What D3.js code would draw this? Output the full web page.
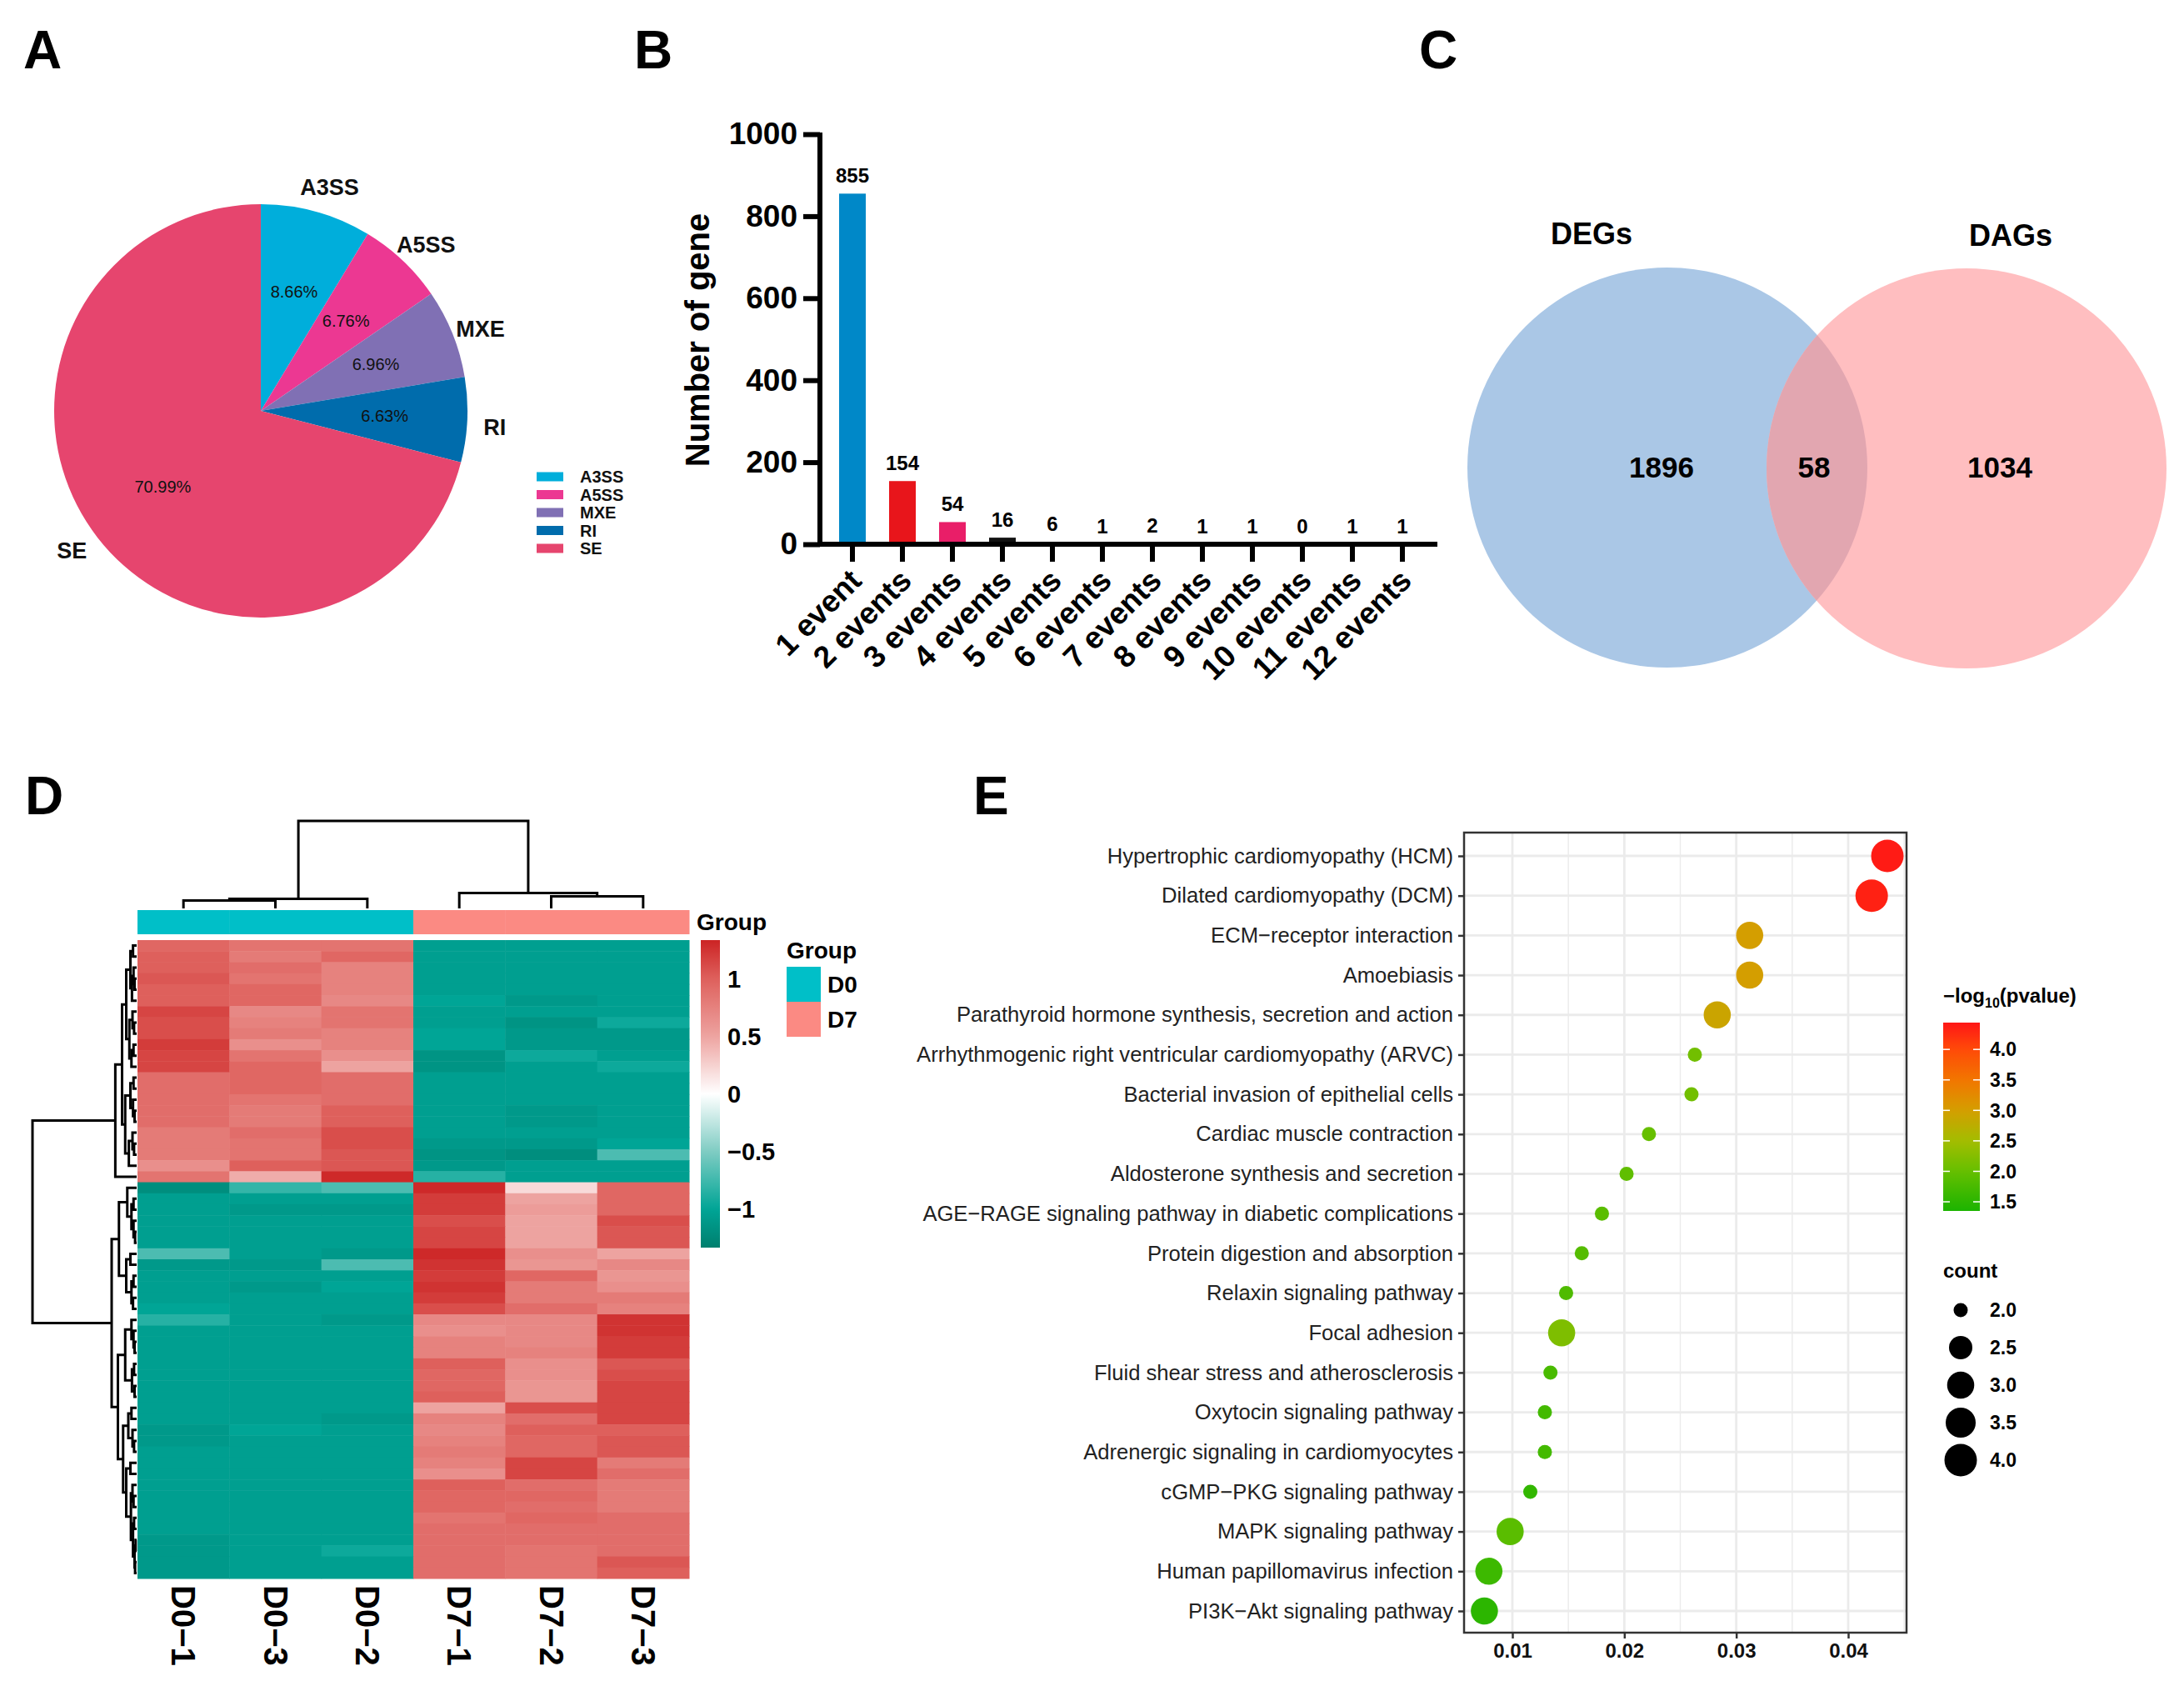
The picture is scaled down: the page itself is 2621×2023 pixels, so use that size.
<!DOCTYPE html>
<html><head><meta charset="utf-8">
<script src="https://cdn.jsdelivr.net/npm/d3@7"></script>
<style>body{margin:0;background:#fff} svg{display:block}</style>
</head><body>
<svg id="fig" width="2621" height="2023"></svg>
<script>
// ---------------- DATA ----------------
// Panel A
const pieTypes = ["A3SS", "A5SS", "MXE", "RI", "SE"];
const piePercents = [8.66, 6.76, 6.96, 6.63, 70.99];
const pieColors = ["#00AEDB", "#EC3892", "#8070B4", "#006CAC", "#E6456E"];

// Panel B
const eventCats = ["1 event", "2 events", "3 events", "4 events", "5 events", "6 events",
  "7 events", "8 events", "9 events", "10 events", "11 events", "12 events"];
const eventCounts = [855, 154, 54, 16, 6, 1, 2, 1, 1, 0, 1, 1];
const eventYTicks = [0, 200, 400, 600, 800, 1000];
const eventColors = ["#0088C8", "#E8151B", "#E91E68", "#111111", "#111111", "#111111",
  "#111111", "#111111", "#111111", "#111111", "#111111", "#111111"];

// Panel C
const vennSets = ["DEGs", "DAGs"];
const vennCounts = [1896, 58, 1034]; // only DEGs, both, only DAGs

// Panel D
const heatSamples = ["D0−1", "D0−3", "D0−2", "D7−1", "D7−2", "D7−3"];
const heatGroups = ["D0", "D0", "D0", "D7", "D7", "D7"];
const groupLevels = ["D0", "D7"];
const heatValues = [
  [0.95, 0.85, 0.85, -1.05, -1.05, -1.05],
  [1.0, 0.8, 0.95, -1.05, -1.05, -1.05],
  [1.0, 0.9, 0.75, -1.05, -1.05, -1.05],
  [1.05, 0.85, 0.75, -1.05, -1.05, -1.05],
  [1.0, 0.95, 0.75, -1.05, -1.05, -1.05],
  [1.0, 0.95, 0.7, -1.0, -1.1, -1.05],
  [1.15, 0.7, 0.85, -1.05, -1.05, -1.05],
  [1.1, 0.75, 0.85, -1.05, -1.15, -0.95],
  [1.1, 0.8, 0.75, -1.0, -1.1, -1.1],
  [1.2, 0.65, 0.75, -1.0, -1.1, -1.1],
  [1.15, 0.85, 0.65, -1.15, -0.95, -1.05],
  [1.15, 0.95, 0.5, -1.15, -1.05, -0.95],
  [0.9, 0.95, 0.9, -1.05, -1.05, -1.05],
  [0.9, 0.95, 0.9, -1.05, -1.05, -1.05],
  [0.9, 0.85, 0.9, -1.05, -1.05, -1.05],
  [0.9, 0.8, 1.0, -1.05, -1.1, -1.05],
  [0.9, 0.8, 1.0, -1.05, -1.1, -1.05],
  [0.8, 0.9, 1.1, -1.05, -1.05, -1.05],
  [0.8, 0.85, 1.1, -1.1, -1.1, -1.0],
  [0.8, 0.85, 1.05, -1.15, -1.2, -0.7],
  [0.65, 1.0, 1.05, -1.1, -1.05, -1.05],
  [0.85, 0.45, 1.3, -0.85, -1.05, -1.05],
  [-1.2, -0.8, -0.7, 1.3, 0.2, 0.95],
  [-1.05, -1.05, -1.05, 1.2, 0.5, 0.95],
  [-1.05, -1.1, -1.1, 1.2, 0.55, 0.95],
  [-1.05, -1.05, -1.05, 1.1, 0.5, 1.1],
  [-1.05, -1.05, -1.05, 1.15, 0.5, 1.05],
  [-1.05, -1.05, -1.05, 1.15, 0.5, 1.05],
  [-0.7, -1.05, -1.1, 1.3, 0.65, 0.5],
  [-1.1, -1.1, -0.7, 1.25, 0.6, 0.7],
  [-1.05, -1.05, -1.05, 1.2, 0.95, 0.6],
  [-1.05, -1.1, -1.0, 1.25, 0.8, 0.65],
  [-1.05, -1.05, -1.05, 1.2, 0.8, 0.8],
  [-1.0, -1.05, -1.05, 1.1, 0.9, 0.75],
  [-0.85, -1.05, -1.1, 0.7, 0.7, 1.25],
  [-1.05, -1.05, -1.05, 0.65, 0.7, 1.25],
  [-1.05, -1.05, -1.05, 0.75, 0.7, 1.2],
  [-1.05, -1.05, -1.05, 0.75, 0.75, 1.2],
  [-1.05, -1.05, -1.05, 1.0, 0.65, 1.05],
  [-1.05, -1.05, -1.05, 0.95, 0.65, 1.1],
  [-1.05, -1.05, -1.05, 0.95, 0.6, 1.15],
  [-1.05, -1.05, -1.05, 1.0, 0.6, 1.15],
  [-1.05, -1.05, -1.05, 0.5, 1.1, 1.15],
  [-1.05, -1.05, -1.1, 0.75, 0.9, 1.15],
  [-1.1, -1.0, -1.05, 0.7, 1.0, 1.0],
  [-1.1, -1.05, -1.05, 0.75, 0.95, 1.05],
  [-1.05, -1.05, -1.05, 0.8, 0.95, 1.05],
  [-1.05, -1.05, -1.05, 0.75, 1.15, 0.8],
  [-1.05, -1.05, -1.05, 0.65, 1.15, 0.9],
  [-1.05, -1.05, -1.05, 1.0, 0.9, 0.8],
  [-1.05, -1.05, -1.05, 0.95, 0.95, 0.8],
  [-1.05, -1.05, -1.05, 0.95, 0.9, 0.8],
  [-1.05, -1.05, -1.05, 0.85, 0.95, 0.9],
  [-1.05, -1.05, -1.05, 0.9, 0.9, 0.9],
  [-1.1, -1.05, -1.05, 0.9, 0.9, 0.9],
  [-1.1, -1.05, -0.95, 0.9, 0.85, 0.9],
  [-1.1, -1.05, -1.05, 0.9, 0.85, 1.05],
  [-1.1, -1.05, -1.05, 0.9, 0.85, 1.0]
];
const heatLegendTicks = [1, 0.5, 0, -0.5, -1];
// dendrograms: {h: merge height, c: [children]}, leaves = row/column index
const colTree = {h: 10.5, c: [{h: 1.15, c: [{h: 0.95, c: [0, 1]}, 2]}, {h: 1.85, c: [3, {h: 1.45, c: [4, 5]}]}]};
const rowTree = {h: 10, c: [
  {h: 2.05, c: [
    {h: 1.4, c: [
      {h: 1.0, c: [
        {h: 0.6, c: [{h: 0.35, c: [0, 1]}, {h: 0.45, c: [{h: 0.3, c: [2, {h: 0.2, c: [3, 4]}]}, 5]}]},
        {h: 0.7, c: [{h: 0.4, c: [6, {h: 0.25, c: [7, 8]}]}, {h: 0.5, c: [{h: 0.3, c: [9, 10]}, 11]}]}]},
      {h: 1.1, c: [
        {h: 0.6, c: [{h: 0.3, c: [12, 13]}, {h: 0.35, c: [14, {h: 0.2, c: [15, 16]}]}]},
        {h: 0.75, c: [{h: 0.4, c: [17, {h: 0.25, c: [18, 19]}]}, 20]}]}]},
    21]},
  {h: 2.4, c: [
    {h: 1.7, c: [
      {h: 0.9, c: [22, {h: 0.5, c: [{h: 0.3, c: [23, 24]}, {h: 0.3, c: [25, {h: 0.15, c: [26, 27]}]}]}]},
      {h: 1.0, c: [{h: 0.6, c: [28, 29]}, {h: 0.5, c: [{h: 0.3, c: [30, 31]}, {h: 0.35, c: [32, 33]}]}]}]},
    {h: 1.8, c: [
      {h: 1.1, c: [{h: 0.5, c: [34, {h: 0.3, c: [35, {h: 0.2, c: [36, 37]}]}]}, {h: 0.45, c: [{h: 0.25, c: [38, 39]}, {h: 0.2, c: [40, 41]}]}]},
      {h: 1.3, c: [
        {h: 0.8, c: [{h: 0.5, c: [42, 43]}, {h: 0.4, c: [44, {h: 0.25, c: [45, 46]}]}]},
        {h: 1.0, c: [{h: 0.6, c: [47, 48]},
          {h: 0.55, c: [{h: 0.4, c: [49, {h: 0.3, c: [50, 51]}]},
            {h: 0.35, c: [{h: 0.25, c: [52, 53]}, {h: 0.2, c: [{h: 0.1, c: [54, 55]}, {h: 0.15, c: [56, 57]}]}]}]}]}]}]}]}
]};

// Panel E
const pathways = ["Hypertrophic cardiomyopathy (HCM)", "Dilated cardiomyopathy (DCM)",
  "ECM−receptor interaction", "Amoebiasis", "Parathyroid hormone synthesis, secretion and action",
  "Arrhythmogenic right ventricular cardiomyopathy (ARVC)", "Bacterial invasion of epithelial cells",
  "Cardiac muscle contraction", "Aldosterone synthesis and secretion",
  "AGE−RAGE signaling pathway in diabetic complications", "Protein digestion and absorption",
  "Relaxin signaling pathway", "Focal adhesion", "Fluid shear stress and atherosclerosis",
  "Oxytocin signaling pathway", "Adrenergic signaling in cardiomyocytes", "cGMP−PKG signaling pathway",
  "MAPK signaling pathway", "Human papillomavirus infection", "PI3K−Akt signaling pathway"];
const geneRatio = [0.0435, 0.0421, 0.0312, 0.0312, 0.0283, 0.0263, 0.0260, 0.0222, 0.0202, 0.0180,
  0.0162, 0.0148, 0.0144, 0.0134, 0.0129, 0.0129, 0.0116, 0.0098, 0.0079, 0.0075];
const negLogP = [4.4, 4.35, 3.0, 3.0, 2.9, 2.1, 2.1, 2.0, 1.95, 1.9, 1.85, 1.8, 2.2, 1.75, 1.7, 1.7,
  1.55, 1.9, 1.65, 1.5];
const geneCount = [4, 4, 3, 3, 3, 2, 2, 2, 2, 2, 2, 2, 3, 2, 2, 2, 2, 3, 3, 3];
const ratioTicks = [0.01, 0.02, 0.03, 0.04];
const ratioMinor = [0.015, 0.025, 0.035, 0.045];
const pLegendTicks = [4.0, 3.5, 3.0, 2.5, 2.0, 1.5];
const countLegend = [2.0, 2.5, 3.0, 3.5, 4.0];
// colour ramp of -log10(pvalue)
const pColorStops = [1.35, 1.5, 2.0, 2.5, 3.0, 3.5, 4.0, 4.44];
const pColorRamp = ["#1CB400", "#2CB600", "#66BF00", "#A3BD00", "#D49E00", "#F27600", "#FF4A08", "#FF1616"];

// ---------------- DRAW ----------------
const FONT = "'Liberation Sans', Arial, Helvetica, sans-serif";
const svg = d3.select("#fig").style("font-family", FONT);
svg.append("rect").attr("width", 2621).attr("height", 2023).attr("fill", "#fff");
const defs = svg.append("defs");

function panelLabel(t, x, y) {
  svg.append("text").attr("x", x).attr("y", y).text(t)
    .attr("font-size", 64).attr("font-weight", "bold").attr("fill", "#000");
}
panelLabel("A", 28, 82); panelLabel("B", 761, 82); panelLabel("C", 1703, 82);
panelLabel("D", 30, 977); panelLabel("E", 1168, 977);

// ---- Panel A: pie ----
(function () {
  const R = 248;
  const g = svg.append("g").attr("transform", "translate(313,493)");
  const arcs = d3.pie().sort(null).value(d => d)(piePercents);
  const arc = d3.arc().innerRadius(0).outerRadius(R);
  const inner = d3.arc().innerRadius(R * 0.6).outerRadius(R * 0.6);
  g.selectAll("path.s").data(arcs).join("path").attr("d", arc)
    .attr("fill", (d, i) => pieColors[i]);
  g.selectAll("text.p").data(arcs).join("text")
    .attr("transform", d => `translate(${inner.centroid(d)})`)
    .attr("text-anchor", "middle").attr("dy", "0.35em")
    .attr("font-size", 20).attr("fill", "#111")
    .text((d, i) => piePercents[i].toFixed(2) + "%");
  g.selectAll("text.o").data(arcs).join("text")
    .attr("transform", d => {
      const a = (d.startAngle + d.endAngle) / 2 + 0.025;
      const r = R * 1.135;
      return `translate(${r * Math.sin(a)},${-r * Math.cos(a)})`;
    })
    .attr("text-anchor", "middle").attr("dy", "0.36em")
    .attr("font-size", 27).attr("font-weight", "bold").attr("fill", "#111")
    .text((d, i) => pieTypes[i]);
  // legend
  const ly = d3.scalePoint().domain(pieTypes).range([572, 658]);
  const lg = svg.append("g");
  lg.selectAll("rect").data(pieTypes).join("rect")
    .attr("x", 644).attr("y", d => ly(d) - 5.5).attr("width", 32).attr("height", 11)
    .attr("fill", (d, i) => pieColors[i]);
  lg.selectAll("text").data(pieTypes).join("text")
    .attr("x", 696).attr("y", d => ly(d)).attr("dy", "0.36em")
    .attr("font-size", 20).attr("font-weight", "bold").attr("fill", "#111").text(d => d);
})();

// ---- Panel B: bars ----
(function () {
  const y = d3.scaleLinear().domain([0, 1000]).range([653, 161]);
  const x = d3.scalePoint().domain(eventCats).range([1023, 1683]);
  const bw = 32;
  const g = svg.append("g");
  g.selectAll("rect").data(eventCats).join("rect")
    .attr("x", d => x(d) - bw / 2).attr("width", bw)
    .attr("y", (d, i) => y(eventCounts[i])).attr("height", (d, i) => y(0) - y(eventCounts[i]))
    .attr("fill", (d, i) => eventColors[i]);
  g.selectAll("text.v").data(eventCats).join("text")
    .attr("x", d => x(d)).attr("y", (d, i) => y(eventCounts[i]) - 13)
    .attr("text-anchor", "middle").attr("font-size", 24).attr("font-weight", "bold")
    .text((d, i) => eventCounts[i]);
  const ya = g.append("g").attr("transform", "translate(984,0)")
    .call(d3.axisLeft(y).tickValues(eventYTicks).tickFormat(d3.format("d"))
      .tickSize(20).tickSizeOuter(0).tickPadding(7));
  ya.select(".domain").attr("stroke", "#000").attr("stroke-width", 6)
    .attr("d", `M0,${y(1000) - 2}V${y(0) + 3}`);
  ya.selectAll(".tick line").attr("stroke", "#000").attr("stroke-width", 6);
  ya.selectAll(".tick text").attr("font-size", 37).attr("font-weight", "bold")
    .attr("font-family", FONT).attr("fill", "#000");
  // x axis
  g.append("line").attr("x1", 981).attr("x2", 1725).attr("y1", y(0)).attr("y2", y(0))
    .attr("stroke", "#000").attr("stroke-width", 6);
  g.selectAll("line.t").data(eventCats).join("line")
    .attr("x1", d => x(d)).attr("x2", d => x(d)).attr("y1", y(0)).attr("y2", y(0) + 21)
    .attr("stroke", "#000").attr("stroke-width", 6);
  g.selectAll("text.x").data(eventCats).join("text")
    .attr("transform", d => `translate(${x(d) + 13},${y(0) + 46}) rotate(-45)`)
    .attr("text-anchor", "end").attr("font-size", 37).attr("font-weight", "bold").text(d => d);
  g.append("text").attr("transform", "translate(851,408) rotate(-90)")
    .attr("text-anchor", "middle").attr("font-size", 40).attr("font-weight", "bold").text("Number of gene");
})();

// ---- Panel C: Venn ----
(function () {
  const g = svg.append("g");
  const c1 = {x: 2001, y: 561, r: 240}, c2 = {x: 2360, y: 562, r: 240};
  defs.append("clipPath").attr("id", "vclip").append("circle")
    .attr("cx", c1.x).attr("cy", c1.y).attr("r", c1.r);
  g.append("circle").attr("cx", c1.x).attr("cy", c1.y).attr("r", c1.r).attr("fill", "#AAC7E6");
  g.append("circle").attr("cx", c2.x).attr("cy", c2.y).attr("r", c2.r).attr("fill", "#FFBEC0");
  g.append("circle").attr("cx", c2.x).attr("cy", c2.y).attr("r", c2.r).attr("fill", "#E2A6B0")
    .attr("clip-path", "url(#vclip)");
  g.append("text").attr("x", 1910).attr("y", 293).attr("text-anchor", "middle")
    .attr("font-size", 36).attr("font-weight", "bold").text(vennSets[0]);
  g.append("text").attr("x", 2413).attr("y", 295).attr("text-anchor", "middle")
    .attr("font-size", 36).attr("font-weight", "bold").text(vennSets[1]);
  const nx = [1994, 2177, 2400];
  vennCounts.forEach((v, i) => {
    g.append("text").attr("x", nx[i]).attr("y", 573).attr("text-anchor", "middle")
      .attr("font-size", 35).attr("font-weight", "bold").text(v);
  });
})();

// ---- Panel D: heatmap ----
(function () {
  const g = svg.append("g");
  const x = d3.scaleBand().domain(d3.range(heatSamples.length)).range([165, 827]);
  const y = d3.scaleBand().domain(d3.range(heatValues.length)).range([1128, 1894]);
  const color = d3.scaleLinear()
    .domain([-1.33, -1.0, -0.5, 0, 0.5, 1.0, 1.33])
    .range(["#007F6E", "#00A596", "#7FCCC3", "#FFFFFF", "#EDA3A0", "#DE605C", "#CC2424"])
    .clamp(true);
  const groupColor = d3.scaleOrdinal().domain(groupLevels).range(["#00BFC8", "#FB8A83"]);
  heatValues.forEach((row, r) => {
    g.selectAll(null).data(row).join("rect")
      .attr("x", (d, c) => x(c)).attr("y", y(r))
      .attr("width", x.bandwidth() + 0.5).attr("height", y.bandwidth() + 0.5)
      .attr("fill", d => color(d));
  });
  // annotation bar
  g.selectAll("rect.a").data(heatGroups).join("rect")
    .attr("x", (d, c) => x(c)).attr("y", 1092).attr("width", x.bandwidth() + 0.5).attr("height", 29)
    .attr("fill", d => groupColor(d));
  g.append("text").attr("x", 836).attr("y", 1116).attr("font-size", 28).attr("font-weight", "bold").text("Group");
  // column labels
  g.selectAll("text.c").data(heatSamples).join("text")
    .attr("transform", (d, c) => `translate(${x(c) + x.bandwidth() / 2},1902) rotate(90)`)
    .attr("dominant-baseline", "central")
    .attr("font-size", 40).attr("font-weight", "bold").text(d => d);
  // column dendrogram
  const cy = d3.scaleLinear().domain([0, 10.5]).range([1090, 985]);
  function layoutCol(n) {
    if (typeof n === "number") return {x: x(n) + x.bandwidth() / 2, y: cy(0)};
    const a = layoutCol(n.c[0]), b = layoutCol(n.c[1]);
    const p = {x: (a.x + b.x) / 2, y: cy(n.h)};
    g.append("path").attr("d", `M${a.x},${a.y}V${p.y}H${b.x}V${b.y}`)
      .attr("fill", "none").attr("stroke", "#000").attr("stroke-width", 3);
    return p;
  }
  layoutCol(colTree);
  // row dendrogram
  const rx = d3.scaleLinear().domain([0, 10]).range([164, 39]);
  function layoutRow(n) {
    if (typeof n === "number") return {x: rx(0), y: y(n) + y.bandwidth() / 2};
    const a = layoutRow(n.c[0]), b = layoutRow(n.c[1]);
    const p = {x: rx(n.h), y: (a.y + b.y) / 2};
    g.append("path").attr("d", `M${a.x},${a.y}H${p.x}V${b.y}H${b.x}`)
      .attr("fill", "none").attr("stroke", "#000").attr("stroke-width", 3);
    return p;
  }
  layoutRow(rowTree);
  // color bar
  const ly = d3.scaleLinear().domain([1.333, -1.333]).range([1128, 1497]);
  const grad = defs.append("linearGradient").attr("id", "hgrad")
    .attr("x1", 0).attr("x2", 0).attr("y1", 0).attr("y2", 1);
  d3.range(0, 1.0001, 0.02).forEach(t => {
    grad.append("stop").attr("offset", t).attr("stop-color", color(1.333 - t * 2.666));
  });
  g.append("rect").attr("x", 841).attr("y", 1128).attr("width", 23).attr("height", 369).attr("fill", "url(#hgrad)");
  g.selectAll("text.l").data(heatLegendTicks).join("text")
    .attr("x", 873).attr("y", d => ly(d)).attr("dy", "0.36em")
    .attr("font-size", 29).attr("font-weight", "bold")
    .text(d => d < 0 ? "−" + Math.abs(d) : d);
  // group legend
  g.append("text").attr("x", 944).attr("y", 1150).attr("font-size", 28).attr("font-weight", "bold").text("Group");
  const gy = d3.scaleBand().domain(groupLevels).range([1160, 1244]);
  g.selectAll("rect.g").data(groupLevels).join("rect")
    .attr("x", 944).attr("y", d => gy(d)).attr("width", 41).attr("height", gy.bandwidth())
    .attr("fill", d => groupColor(d));
  g.selectAll("text.g").data(groupLevels).join("text")
    .attr("x", 993).attr("y", d => gy(d) + gy.bandwidth() / 2).attr("dy", "0.36em")
    .attr("font-size", 28).attr("font-weight", "bold").text(d => d);
})();

// ---- Panel E: dot plot ----
(function () {
  const g = svg.append("g");
  const L = 1757, Rr = 2288, T = 999, B = 1959;
  const x = d3.scaleLinear().domain([0.01, 0.04]).range([1815, 2218]);
  const y = d3.scalePoint().domain(pathways).range([1027, 1933]);
  const col = d3.scaleLinear().domain(pColorStops).range(pColorRamp).clamp(true);
  const sNorm = d3.scaleLinear().domain([2, 4]).range([0, 1]);
  const diam = d3.scaleLinear().domain([0, 1]).range([17, 39]);
  const rad = c => diam(Math.sqrt(sNorm(c))) / 2;
  g.append("rect").attr("x", L).attr("y", T).attr("width", Rr - L).attr("height", B - T).attr("fill", "#fff");
  g.selectAll("line.mn").data(ratioMinor.filter(v => x(v) < Rr)).join("line")
    .attr("x1", d => x(d)).attr("x2", d => x(d)).attr("y1", T).attr("y2", B)
    .attr("stroke", "#EBEBEB").attr("stroke-width", 1.4);
  g.selectAll("line.mj").data(ratioTicks).join("line")
    .attr("x1", d => x(d)).attr("x2", d => x(d)).attr("y1", T).attr("y2", B)
    .attr("stroke", "#EBEBEB").attr("stroke-width", 2.8);
  g.selectAll("line.hy").data(pathways).join("line")
    .attr("x1", L).attr("x2", Rr).attr("y1", d => y(d)).attr("y2", d => y(d))
    .attr("stroke", "#EBEBEB").attr("stroke-width", 2.8);
  g.selectAll("circle.d").data(pathways).join("circle")
    .attr("cx", (d, i) => x(geneRatio[i])).attr("cy", d => y(d))
    .attr("r", (d, i) => rad(geneCount[i])).attr("fill", (d, i) => col(negLogP[i]));
  g.append("rect").attr("x", L).attr("y", T).attr("width", Rr - L).attr("height", B - T)
    .attr("fill", "none").attr("stroke", "#333").attr("stroke-width", 2.5);
  const ya = g.append("g").attr("transform", `translate(${L},0)`)
    .call(d3.axisLeft(y).tickSize(7).tickPadding(6));
  ya.select(".domain").remove();
  ya.selectAll(".tick line").attr("stroke", "#333").attr("stroke-width", 2.5);
  ya.selectAll(".tick text").attr("font-size", 25.6).attr("font-family", FONT).attr("fill", "#222");
  const xa = g.append("g").attr("transform", `translate(0,${B})`)
    .call(d3.axisBottom(x).tickValues(ratioTicks).tickSize(7).tickPadding(6).tickFormat(d3.format(".2f")));
  xa.select(".domain").remove();
  xa.selectAll(".tick line").attr("stroke", "#333").attr("stroke-width", 2.5);
  xa.selectAll(".tick text").attr("font-size", 24).attr("font-weight", "bold")
    .attr("font-family", FONT).attr("fill", "#111");
  // colour legend
  const t = g.append("text").attr("x", 2332).attr("y", 1203).attr("font-size", 24).attr("font-weight", "bold");
  t.append("tspan").text("−log");
  t.append("tspan").attr("font-size", 16).attr("dy", 6).text("10");
  t.append("tspan").attr("dy", -6).text("(pvalue)");
  const ly = d3.scaleLinear().domain([4.44, 1.35]).range([1227, 1453]);
  const grad = defs.append("linearGradient").attr("id", "pgrad")
    .attr("x1", 0).attr("x2", 0).attr("y1", 0).attr("y2", 1);
  d3.range(0, 1.0001, 0.025).forEach(s => {
    grad.append("stop").attr("offset", s).attr("stop-color", col(4.44 - s * 3.09));
  });
  g.append("rect").attr("x", 2332).attr("y", 1227).attr("width", 44).attr("height", 226).attr("fill", "url(#pgrad)");
  g.selectAll("line.lt").data(pLegendTicks).join("line")
    .attr("x1", 2332).attr("x2", 2340).attr("y1", d => ly(d)).attr("y2", d => ly(d))
    .attr("stroke", "#fff").attr("stroke-width", 1.5);
  g.selectAll("line.rt").data(pLegendTicks).join("line")
    .attr("x1", 2368).attr("x2", 2376).attr("y1", d => ly(d)).attr("y2", d => ly(d))
    .attr("stroke", "#fff").attr("stroke-width", 1.5);
  g.selectAll("text.pl").data(pLegendTicks).join("text")
    .attr("x", 2388).attr("y", d => ly(d)).attr("dy", "0.36em")
    .attr("font-size", 23).attr("font-weight", "bold").text(d => d.toFixed(1));
  // size legend
  g.append("text").attr("x", 2332).attr("y", 1533).attr("font-size", 24).attr("font-weight", "bold").text("count");
  const sy = d3.scalePoint().domain(countLegend).range([1572, 1752]);
  g.selectAll("circle.sl").data(countLegend).join("circle")
    .attr("cx", 2353).attr("cy", d => sy(d)).attr("r", d => rad(d)).attr("fill", "#000");
  g.selectAll("text.sl").data(countLegend).join("text")
    .attr("x", 2388).attr("y", d => sy(d)).attr("dy", "0.36em")
    .attr("font-size", 23).attr("font-weight", "bold").text(d => d.toFixed(1));
})();
</script>
</body></html>
